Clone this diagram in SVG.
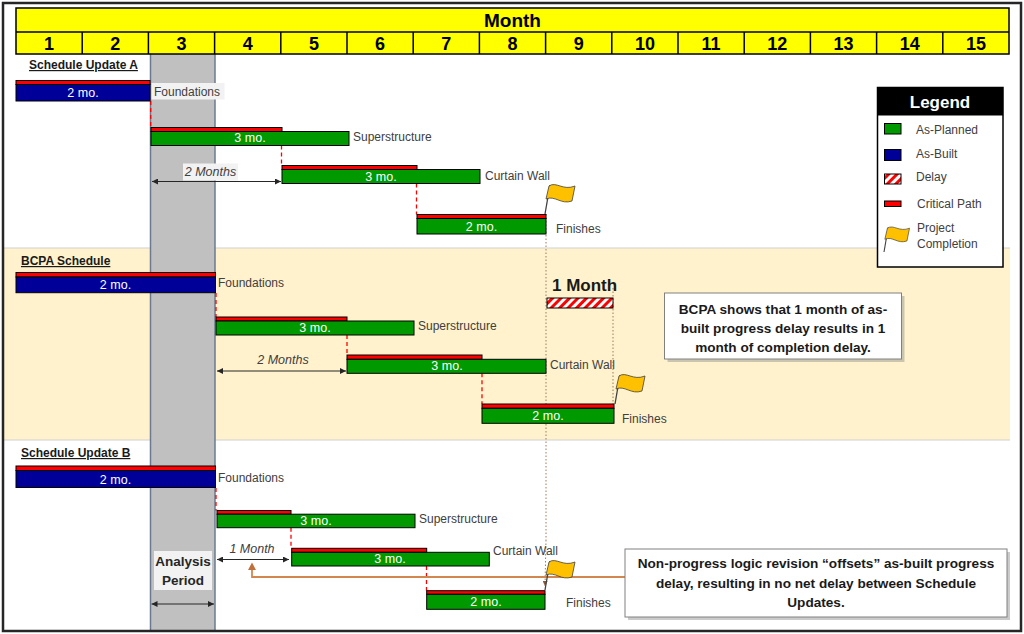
<svg xmlns="http://www.w3.org/2000/svg" width="1024" height="634" viewBox="0 0 1024 634">
<defs>
<style>
text{font-family:"Liberation Sans",Arial,sans-serif}
.lbl{font-size:12px;fill:#404040}
.bt{font-size:12.5px;fill:#fff;text-anchor:middle}
.sec{font-size:12px;font-weight:bold;fill:#1a1a1a;text-decoration:underline}
.num{font-size:18px;font-weight:bold;fill:#000;text-anchor:middle}
.cp{fill:#ff0000;stroke:#000;stroke-width:1}
.ab{fill:#000099;stroke:#000;stroke-width:1}
.ap{fill:#009900;stroke:#000;stroke-width:1}
.crit{stroke:#ff0000;stroke-width:1.3;stroke-dasharray:4 3;fill:none}
.dim{stroke:#262626;stroke-width:1;fill:none;marker-start:url(#ah);marker-end:url(#ah)}
.it{font-size:12.5px;font-style:italic;fill:#404040;text-anchor:middle}
.call{font-size:13.6px;font-weight:bold;fill:#1a1a1a;text-anchor:middle}
.dot{stroke:#a07a5a;stroke-width:1;stroke-dasharray:1.5 2;fill:none}
.leg{font-size:12px;fill:#404040}
</style>
<marker id="ah" viewBox="0 0 10 10" refX="10" refY="5" markerWidth="6" markerHeight="6" orient="auto-start-reverse"><path d="M0,0 L10,5 L0,10 z" fill="#262626"/></marker>
<marker id="ahb" viewBox="0 0 10 10" refX="10" refY="5" markerWidth="5" markerHeight="5" orient="auto"><path d="M0,0 L10,5 L0,10 z" fill="#8a5a3a"/></marker>
<pattern id="hatch" patternUnits="userSpaceOnUse" width="6" height="6" patternTransform="rotate(45)"><rect width="6" height="6" fill="#fff"/><rect width="3" height="6" fill="#ff0000"/></pattern>
<g id="flag">
<line x1="0" y1="0" x2="5" y2="-29" stroke="#404040" stroke-width="1.3"/>
<path d="M4,-28 C11,-33 18,-23 30,-28 L27,-13 C16,-9 10,-19 1,-15 Z" fill="#ffc000" stroke="#404040" stroke-width="0.8"/>
</g>
</defs>

<rect x="0" y="0" width="1024" height="634" fill="#fff"/>
<g id="backgrounds">
<rect x="3" y="248" width="1007" height="192" fill="#fff2cc"/>
<line x1="3" y1="248" x2="1010" y2="248" stroke="#d0d0d0" stroke-width="1.2"/>
<line x1="3" y1="440" x2="1010" y2="440" stroke="#d0d0d0" stroke-width="1.2"/>
</g>

<g id="analysis-period">
<rect x="150.5" y="54" width="64.5" height="577" fill="#c0c0c0"/>
<line x1="150.5" y1="54" x2="150.5" y2="631" stroke="#6b7a90" stroke-width="1.5"/>
<line x1="215" y1="54" x2="215" y2="631" stroke="#6b7a90" stroke-width="1.5"/>
<rect x="154" y="551" width="58" height="39" fill="#f2f2f2"/>
<text x="183" y="566" font-size="13.5" font-weight="bold" fill="#262626" text-anchor="middle">Analysis</text>
<text x="183" y="585" font-size="13.5" font-weight="bold" fill="#262626" text-anchor="middle">Period</text>
</g>

<g id="header">
<rect x="16" y="8" width="993" height="46" fill="#ffff00" stroke="#000" stroke-width="1.5"/>
<line x1="16" y1="32" x2="1009" y2="32" stroke="#000" stroke-width="1.5"/>
<g stroke="#000" stroke-width="1.5">
<line x1="82.2" y1="32" x2="82.2" y2="54"/><line x1="148.4" y1="32" x2="148.4" y2="54"/><line x1="214.6" y1="32" x2="214.6" y2="54"/><line x1="280.8" y1="32" x2="280.8" y2="54"/><line x1="347" y1="32" x2="347" y2="54"/><line x1="413.2" y1="32" x2="413.2" y2="54"/><line x1="479.4" y1="32" x2="479.4" y2="54"/><line x1="545.6" y1="32" x2="545.6" y2="54"/><line x1="611.8" y1="32" x2="611.8" y2="54"/><line x1="678" y1="32" x2="678" y2="54"/><line x1="744.2" y1="32" x2="744.2" y2="54"/><line x1="810.4" y1="32" x2="810.4" y2="54"/><line x1="876.6" y1="32" x2="876.6" y2="54"/><line x1="942.8" y1="32" x2="942.8" y2="54"/>
</g>
<text x="512.5" y="27" font-size="19" font-weight="bold" text-anchor="middle">Month</text>
<text class="num" x="49.1" y="50">1</text><text class="num" x="115.3" y="50">2</text><text class="num" x="181.5" y="50">3</text><text class="num" x="247.7" y="50">4</text><text class="num" x="313.9" y="50">5</text><text class="num" x="380.1" y="50">6</text><text class="num" x="446.3" y="50">7</text><text class="num" x="512.5" y="50">8</text><text class="num" x="578.7" y="50">9</text><text class="num" x="644.9" y="50">10</text><text class="num" x="711.1" y="50">11</text><text class="num" x="777.3" y="50">12</text><text class="num" x="843.5" y="50">13</text><text class="num" x="909.7" y="50">14</text><text class="num" x="975.9" y="50">15</text>
</g>

<g id="connectors">
<!-- Section A -->
<line class="crit" x1="150.7" y1="101" x2="150.7" y2="127.5"/>
<line class="crit" x1="281.5" y1="145.5" x2="281.5" y2="165.5"/>
<line class="crit" x1="416.5" y1="183.5" x2="416.5" y2="214.5"/>
<rect x="183" y="163.5" width="55" height="17" fill="#f2f2f2"/>
<text class="it" x="210.5" y="176">2 Months</text>
<line class="dim" x1="152" y1="181.5" x2="281" y2="181.5"/>
<!-- BCPA -->
<line class="crit" x1="216" y1="293" x2="216" y2="317"/>
<line class="crit" x1="347" y1="335" x2="347" y2="355"/>
<line class="crit" x1="482" y1="373.3" x2="482" y2="404"/>
<text class="it" x="283" y="363.5">2 Months</text>
<line class="dim" x1="217" y1="371" x2="346" y2="371"/>
<!-- Update B -->
<line class="crit" x1="216" y1="488" x2="216" y2="510.5"/>
<line class="crit" x1="291" y1="527.7" x2="291" y2="548.3"/>
<line class="crit" x1="426.5" y1="566" x2="426.5" y2="590.7"/>
<text class="it" x="252" y="552.5">1 Month</text>
<line class="dim" x1="217" y1="559.5" x2="289" y2="559.5"/>
<line class="dim" x1="151.5" y1="604" x2="214" y2="604"/>
<!-- dotted completion lines -->
<line class="dot" x1="546" y1="214" x2="546" y2="540"/>
<path class="dot" d="M546,540 L545,586" marker-end="url(#ahb)"/>
<line class="dot" x1="613" y1="288" x2="613" y2="404"/>
<!-- orange offset arrow -->
<polyline points="252,569 252,577 625,577" fill="none" stroke="#d4864f" stroke-width="1.8"/>
<polygon points="252,562.5 248,570 256,570" fill="#c0703a"/>
</g>

<g id="section-a">
<text class="sec" x="29" y="69">Schedule Update A</text>
<g id="a-foundations">
<rect class="cp" x="16" y="80.5" width="134" height="4"/>
<rect class="ab" x="16" y="84.5" width="134" height="16.5"/>
<text class="bt" x="83" y="97">2 mo.</text>
<rect x="151.5" y="83" width="73" height="16.5" fill="#f2f2f2"/>
<text class="lbl" x="154" y="96">Foundations</text>
</g>
<g id="a-superstructure">
<rect class="cp" x="151" y="127.5" width="131" height="4"/>
<rect class="ap" x="151" y="131.5" width="198" height="14"/>
<text class="bt" x="250" y="142">3 mo.</text>
<text class="lbl" x="353" y="140.5">Superstructure</text>
</g>
<g id="a-curtain-wall">
<rect class="cp" x="282" y="165.5" width="135" height="4"/>
<rect class="ap" x="282" y="169.5" width="198" height="14"/>
<text class="bt" x="381" y="180.5">3 mo.</text>
<text class="lbl" x="485" y="180">Curtain Wall</text>
</g>
<g id="a-finishes">
<rect class="cp" x="417" y="214.5" width="129" height="4"/>
<rect class="ap" x="417" y="218.5" width="129" height="15.5"/>
<text class="bt" x="481.5" y="230.5">2 mo.</text>
<text class="lbl" x="556" y="233">Finishes</text>
</g>
<use id="a-flag" href="#flag" transform="translate(545,214)"/>
</g>

<g id="section-bcpa">
<text class="sec" x="21" y="265">BCPA Schedule</text>
<g id="bcpa-foundations">
<rect class="cp" x="16" y="272.5" width="199.5" height="4.5"/>
<rect class="ab" x="16" y="277" width="199.5" height="15.7"/>
<text class="bt" x="115.5" y="289">2 mo.</text>
<text class="lbl" x="218" y="287">Foundations</text>
</g>
<g id="bcpa-superstructure">
<rect class="cp" x="216" y="317" width="131" height="4"/>
<rect class="ap" x="216" y="321" width="198" height="14"/>
<text class="bt" x="315" y="332">3 mo.</text>
<text class="lbl" x="418" y="330">Superstructure</text>
</g>
<g id="bcpa-curtain-wall">
<rect class="cp" x="347" y="355" width="135" height="4.3"/>
<rect class="ap" x="347" y="359.3" width="199" height="14"/>
<text class="bt" x="447" y="370">3 mo.</text>
<text class="lbl" x="550" y="369">Curtain Wall</text>
</g>
<g id="bcpa-finishes">
<rect class="cp" x="482" y="404" width="132" height="4.3"/>
<rect class="ap" x="482" y="408.3" width="132" height="15"/>
<text class="bt" x="548" y="420">2 mo.</text>
<text class="lbl" x="622" y="423">Finishes</text>
</g>
<use id="bcpa-flag" href="#flag" transform="translate(615,404)"/>
<g id="bcpa-delay">
<text x="552" y="291" font-size="17" font-weight="bold" fill="#1a1a1a">1 Month</text>
<rect x="547" y="298" width="66" height="10" fill="url(#hatch)" stroke="#000" stroke-width="1"/>
</g>
<g id="bcpa-callout">
<rect x="667.5" y="296" width="237" height="66" fill="#8c8c8c" opacity="0.45"/>
<rect x="664.5" y="293" width="237" height="66" fill="#fff" stroke="#808080" stroke-width="1"/>
<text class="call" x="783" y="314">BCPA shows that 1 month of as-</text>
<text class="call" x="783" y="333">built progress delay results in 1</text>
<text class="call" x="783" y="352">month of completion delay.</text>
</g>
</g>

<g id="section-b">
<text class="sec" x="21" y="457">Schedule Update B</text>
<g id="b-foundations">
<rect class="cp" x="16" y="466" width="199.5" height="4.5"/>
<rect class="ab" x="16" y="470.5" width="199.5" height="17"/>
<text class="bt" x="115.5" y="483.5">2 mo.</text>
<text class="lbl" x="218" y="482">Foundations</text>
</g>
<g id="b-superstructure">
<rect class="cp" x="217" y="510.5" width="74" height="3.7"/>
<rect class="ap" x="217" y="514.2" width="198" height="13.5"/>
<text class="bt" x="316" y="524.5">3 mo.</text>
<text class="lbl" x="419" y="523">Superstructure</text>
</g>
<g id="b-curtain-wall">
<rect class="cp" x="291.7" y="548.3" width="135" height="4"/>
<rect class="ap" x="291.7" y="552.3" width="197.6" height="13.7"/>
<text class="bt" x="390" y="563">3 mo.</text>
<text class="lbl" x="493" y="555">Curtain Wall</text>
</g>
<g id="b-finishes">
<rect class="cp" x="426.7" y="590.7" width="118.3" height="3.6"/>
<rect class="ap" x="426.7" y="594.3" width="118.3" height="15"/>
<text class="bt" x="486" y="605.5">2 mo.</text>
<text class="lbl" x="566" y="607">Finishes</text>
</g>
<use id="b-flag" href="#flag" transform="translate(545,590)"/>
<g id="b-callout">
<rect x="628" y="552" width="382" height="68" fill="#8c8c8c" opacity="0.45"/>
<rect x="625" y="549" width="382" height="68" fill="#fff" stroke="#808080" stroke-width="1"/>
<text class="call" x="816" y="568">Non-progress logic revision “offsets” as-built progress</text>
<text class="call" x="816" y="588">delay, resulting in no net delay between Schedule</text>
<text class="call" x="816" y="607">Updates.</text>
</g>
</g>

<g id="legend">
<rect x="877.5" y="87.5" width="125.5" height="179.5" fill="#fff" stroke="#000" stroke-width="1.5"/>
<rect x="877.5" y="87.5" width="125.5" height="28" fill="#000"/>
<text x="940" y="108" font-size="17" font-weight="bold" fill="#fff" text-anchor="middle">Legend</text>
<rect class="ap" x="884.5" y="123.5" width="16.5" height="10.5"/>
<text class="leg" x="916" y="134">As-Planned</text>
<rect class="ab" x="884.5" y="149.5" width="16.5" height="11"/>
<text class="leg" x="916" y="158">As-Built</text>
<rect x="884.5" y="174" width="16.5" height="10" fill="url(#hatch)" stroke="#000" stroke-width="1"/>
<text class="leg" x="916" y="181">Delay</text>
<rect class="cp" x="884.5" y="201" width="16.5" height="5.5"/>
<text class="leg" x="917" y="208">Critical Path</text>
<use href="#flag" transform="translate(884,252) scale(0.85)"/>
<text class="leg" x="917" y="232">Project</text>
<text class="leg" x="917" y="248">Completion</text>
</g>

<rect x="3" y="3" width="1018" height="628" fill="none" stroke="#262626" stroke-width="2.5"/>
</svg>
